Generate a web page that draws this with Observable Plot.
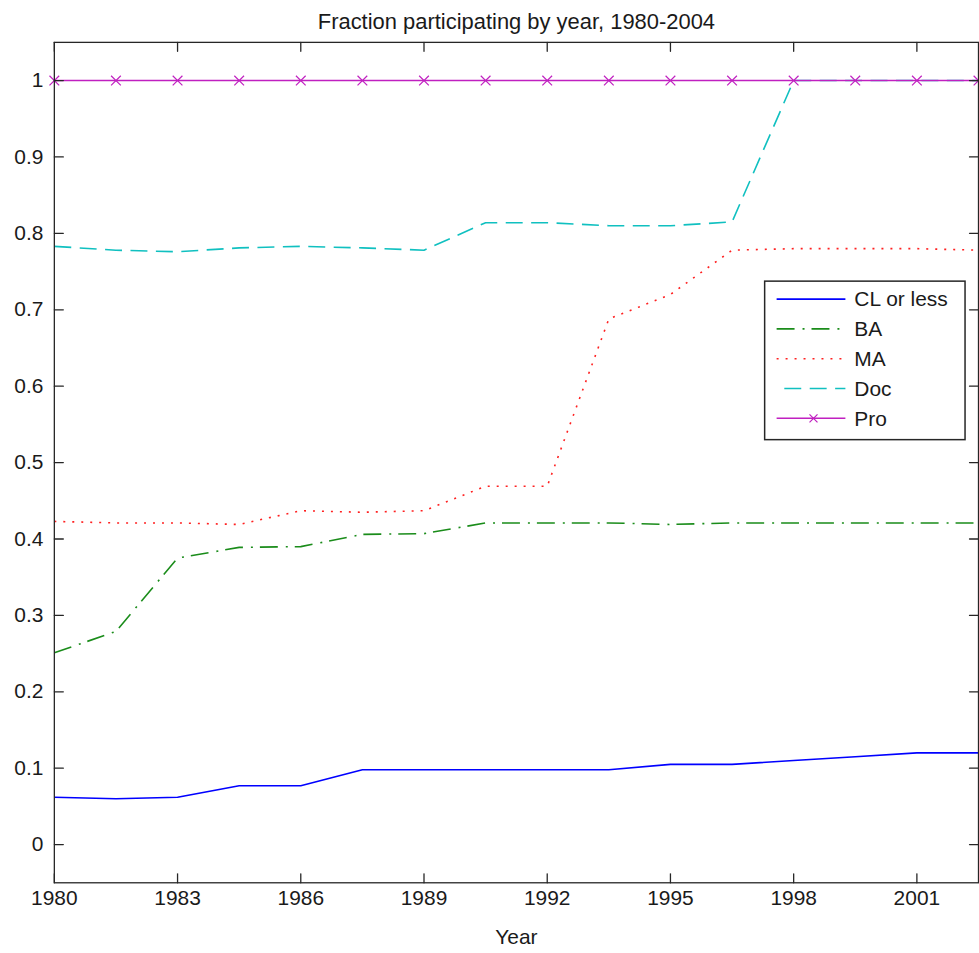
<!DOCTYPE html>
<html><head><meta charset="utf-8">
<script src="https://cdn.jsdelivr.net/npm/d3@7"></script>
<script src="https://cdn.jsdelivr.net/npm/@observablehq/plot@0.6"></script>
<style>
html,body{margin:0;padding:0;background:#fff;overflow:hidden;}
#chart{width:979px;height:953px;overflow:hidden;}
</style></head><body><div id="chart"></div>
<script>
// ---- data ----
const years = [1980, 1981.5, 1983, 1984.5, 1986, 1987.5, 1989, 1990.5, 1992, 1993.5, 1995, 1996.5, 1998, 1999.5, 2001, 2002.5];
const clOrLess = [0.062, 0.060, 0.062, 0.077, 0.077, 0.098, 0.098, 0.098, 0.098, 0.098, 0.105, 0.105, 0.110, 0.115, 0.120, 0.120];
const ba       = [0.251, 0.279, 0.375, 0.389, 0.390, 0.406, 0.407, 0.421, 0.421, 0.421, 0.419, 0.421, 0.421, 0.421, 0.421, 0.421];
const ma       = [0.423, 0.421, 0.421, 0.419, 0.437, 0.435, 0.437, 0.469, 0.469, 0.688, 0.720, 0.778, 0.780, 0.780, 0.780, 0.778];
const doc      = [0.783, 0.778, 0.776, 0.781, 0.783, 0.781, 0.778, 0.814, 0.814, 0.810, 0.810, 0.815, 1.000, 1.000, 1.000, 1.000];
const pro      = [1, 1, 1, 1, 1, 1, 1, 1, 1, 1, 1, 1, 1, 1, 1, 1];

const seriesNames = ["CL or less", "BA", "MA", "Doc", "Pro"];
const seriesValues = [clOrLess, ba, ma, doc, pro];
const seriesColors = ["#0000ff", "#1a8c1a", "#ff2020", "#10c0c0", "#c020c0"];
const seriesDash = [null, "18,8,2,7", "2,7", "17,8.5", null];

const xTicks = [1980, 1983, 1986, 1989, 1992, 1995, 1998, 2001];
const xTickLabels = ["1980", "1983", "1986", "1989", "1992", "1995", "1998", "2001"];
const yTicks = [0, 0.1, 0.2, 0.3, 0.4, 0.5, 0.6, 0.7, 0.8, 0.9, 1];
const yTickLabels = ["0", "0.1", "0.2", "0.3", "0.4", "0.5", "0.6", "0.7", "0.8", "0.9", "1"];

const titleText = "Fraction participating by year, 1980-2004";
const xLabel = "Year";

// ---- build ----
const axisColor = "#262626";
const textColor = "#1a1a1a";
const font = "'Liberation Sans', Arial, Helvetica, sans-serif";
const fs = 21;

const seriesData = seriesValues.map(vals => years.map((yr, j) => ({year: yr, value: vals[j]})));

const tickShape = {draw(context, l) { context.moveTo(0, 0); context.lineTo(0, -l); }};
const tickOpts = {length: 9, anchor: "start", shape: tickShape, stroke: axisColor, strokeWidth: 1.3};

const lineMarks = seriesData.map((d, i) => Plot.line(d, {
  x: "year", y: "value",
  stroke: seriesColors[i],
  strokeWidth: 1.6,
  strokeDasharray: seriesDash[i] || undefined,
  strokeLinecap: "butt",
  strokeLinejoin: "miter"
}));

const chart = Plot.plot({
  width: 982,
  height: 953,
  marginLeft: 54,
  marginRight: 1,
  marginTop: 42,
  marginBottom: 68,
  style: {fontFamily: font, fontSize: fs + "px", color: textColor, background: "#fff"},
  x: {domain: [1980, 2002.5], axis: null},
  y: {domain: [-0.05, 1.05], axis: null},
  marks: [
    Plot.axisX(xTicks, {anchor: "bottom", tickSize: 0, tickPadding: 7, fontSize: fs, fill: textColor,
      tickFormat: d => xTickLabels[xTicks.indexOf(d)], label: null}),
    Plot.axisY(yTicks, {anchor: "left", tickSize: 0, tickPadding: 11, fontSize: fs, fill: textColor,
      tickFormat: d => yTickLabels[yTicks.indexOf(d)], label: null}),
    ...lineMarks,
    Plot.dot(seriesData[4], {x: "year", y: "value", symbol: "times", r: 4.5, stroke: seriesColors[4], strokeWidth: 1.2}),
    Plot.vector(xTicks, {x: d => d, frameAnchor: "bottom", rotate: 0, ...tickOpts}),
    Plot.vector(xTicks, {x: d => d, frameAnchor: "top", rotate: 180, ...tickOpts}),
    Plot.vector(yTicks, {y: d => d, frameAnchor: "left", rotate: 90, ...tickOpts}),
    Plot.vector(yTicks, {y: d => d, frameAnchor: "right", rotate: 270, ...tickOpts}),
    Plot.frame({stroke: axisColor, strokeWidth: 1.3}),
    Plot.text([titleText], {text: d => d, frameAnchor: "top", dy: -20, fontSize: 22, fill: textColor, lineAnchor: "middle"}),
    Plot.text([xLabel], {text: d => d, frameAnchor: "bottom", dy: 55, fontSize: fs, fill: textColor, lineAnchor: "middle"})
  ]
});

// ---- legend (MATLAB-style box) ----
const svg = d3.select(chart);
const lg = svg.append("g").attr("class", "legend");
lg.append("rect").attr("x", 767).attr("y", 282).attr("width", 201).attr("height", 159)
  .attr("fill", "#fff").attr("stroke", axisColor).attr("stroke-width", 1.5);
seriesNames.forEach((name, i) => {
  const cy = 300 + i * 29.9;
  const ln = lg.append("line").attr("x1", 779).attr("x2", 848).attr("y1", cy).attr("y2", cy)
    .attr("stroke", seriesColors[i]).attr("stroke-width", 1.6);
  if (seriesDash[i]) ln.attr("stroke-dasharray", seriesDash[i]);
  if (i === 3) ln.attr("stroke-dashoffset", 17.8);
  if (i === 4) {
    const s = 4;
    lg.append("path").attr("d", `M${816 - s},${cy - s}L${816 + s},${cy + s}M${816 - s},${cy + s}L${816 + s},${cy - s}`)
      .attr("stroke", seriesColors[i]).attr("stroke-width", 1.2).attr("fill", "none");
  }
  lg.append("text").attr("x", 857).attr("y", cy).attr("dy", "0.35em")
    .attr("text-anchor", "start")
    .attr("fill", textColor).attr("font-size", fs).attr("font-family", font).text(name);
});

document.getElementById("chart").appendChild(chart);
</script>
</body></html>
